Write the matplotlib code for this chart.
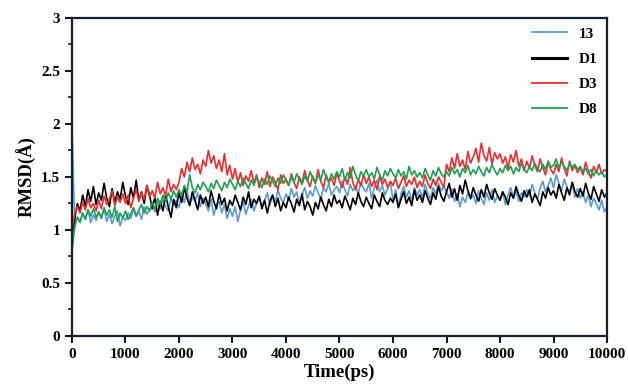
import numpy as np
import matplotlib.pyplot as plt

# RMSD traces, one value every 50 ps
step = 50

rmsd_13 = [
    2.00, 1.05, 1.12, 1.08, 1.16, 1.10, 1.19, 1.07, 1.14, 1.09,
    1.17, 1.11, 1.20, 1.08, 1.15, 1.06, 1.13, 1.18, 1.04, 1.12,
    1.09, 1.16, 1.11, 1.21, 1.13, 1.18, 1.10, 1.22, 1.15, 1.19,
    1.24, 1.17, 1.27, 1.20, 1.29, 1.22, 1.18, 1.30, 1.24, 1.28,
    1.21, 1.33, 1.26, 1.38, 1.24, 1.31, 1.27, 1.35, 1.22, 1.30,
    1.25, 1.18, 1.29, 1.14, 1.23, 1.27, 1.16, 1.24, 1.11, 1.20,
    1.13, 1.22, 1.08, 1.19, 1.26, 1.15, 1.23, 1.29, 1.18, 1.25,
    1.31, 1.22, 1.28, 1.35, 1.24, 1.32, 1.27, 1.38, 1.30, 1.26,
    1.34, 1.28, 1.39, 1.31, 1.36, 1.25, 1.33, 1.40, 1.30, 1.37,
    1.32, 1.42, 1.35, 1.29, 1.40, 1.36, 1.44, 1.33, 1.38, 1.41,
    1.35, 1.46, 1.38, 1.32, 1.43, 1.37, 1.41, 1.34, 1.45, 1.39,
    1.36, 1.44, 1.30, 1.40, 1.47, 1.36, 1.42, 1.33, 1.39, 1.45,
    1.28, 1.38, 1.22, 1.34, 1.41, 1.31, 1.37, 1.27, 1.40, 1.33,
    1.38, 1.30, 1.43, 1.35, 1.29, 1.40, 1.34, 1.44, 1.37, 1.41,
    1.36, 1.30, 1.39, 1.27, 1.34, 1.22, 1.31, 1.26, 1.35, 1.29,
    1.33, 1.25, 1.37, 1.30, 1.24, 1.35, 1.28, 1.38, 1.26, 1.32,
    1.29, 1.36, 1.24, 1.33, 1.40, 1.30, 1.37, 1.27, 1.35, 1.31,
    1.38, 1.32, 1.43, 1.35, 1.29, 1.40, 1.46, 1.36, 1.42, 1.49,
    1.40, 1.52, 1.44, 1.37, 1.48, 1.41, 1.35, 1.45, 1.31, 1.39,
    1.30, 1.36, 1.26, 1.33, 1.22, 1.30, 1.25, 1.19, 1.28, 1.17,
    1.22,
]

rmsd_d1 = [
    0.95, 1.10, 1.25, 1.18, 1.33, 1.22, 1.38, 1.27, 1.41, 1.24,
    1.35, 1.28, 1.44, 1.30, 1.22, 1.39, 1.26, 1.36, 1.29, 1.45,
    1.32, 1.24, 1.40, 1.30, 1.47, 1.28, 1.36, 1.25, 1.42, 1.33,
    1.20, 1.31, 1.14, 1.27, 1.18, 1.33, 1.22, 1.12, 1.29, 1.21,
    1.35, 1.26, 1.40, 1.30, 1.23, 1.36, 1.28, 1.19, 1.33, 1.25,
    1.31, 1.22, 1.37, 1.27, 1.20, 1.34, 1.24, 1.30, 1.18, 1.28,
    1.23, 1.33, 1.26, 1.19, 1.31, 1.24, 1.36, 1.21, 1.29, 1.25,
    1.32, 1.20, 1.28, 1.16, 1.27, 1.33, 1.22, 1.30, 1.18, 1.26,
    1.21, 1.31, 1.25, 1.17, 1.29, 1.23, 1.34, 1.19, 1.27, 1.22,
    1.14, 1.26, 1.20, 1.31, 1.24, 1.18, 1.29, 1.22, 1.33, 1.25,
    1.28, 1.21, 1.32, 1.26, 1.19, 1.30, 1.24, 1.35, 1.27, 1.22,
    1.31, 1.25, 1.20, 1.33, 1.27, 1.22, 1.35, 1.28, 1.24, 1.30,
    1.26, 1.34, 1.21, 1.29, 1.36, 1.25, 1.31, 1.23, 1.38, 1.28,
    1.33, 1.26, 1.37, 1.30, 1.24, 1.35, 1.29, 1.41, 1.32, 1.27,
    1.36, 1.44, 1.31, 1.39, 1.28, 1.42, 1.34, 1.47, 1.37, 1.30,
    1.40, 1.33, 1.27, 1.38, 1.31, 1.43, 1.35, 1.29, 1.39, 1.33,
    1.28, 1.36, 1.31, 1.24, 1.35, 1.30, 1.41, 1.33, 1.27, 1.37,
    1.31, 1.38, 1.26, 1.34, 1.29, 1.23, 1.36, 1.30, 1.40, 1.33,
    1.37, 1.30, 1.43, 1.35, 1.28, 1.40, 1.33, 1.45, 1.36, 1.31,
    1.39, 1.32, 1.44, 1.35, 1.29, 1.41, 1.34, 1.27, 1.38, 1.31,
    1.35,
]

rmsd_d3 = [
    1.00, 1.15, 1.22, 1.16, 1.26, 1.19, 1.30, 1.21, 1.25, 1.18,
    1.28, 1.20, 1.32, 1.24, 1.29, 1.37, 1.23, 1.31, 1.26, 1.34,
    1.25, 1.33, 1.21, 1.30, 1.38, 1.27, 1.35, 1.29, 1.42, 1.31,
    1.37, 1.30, 1.45, 1.34, 1.40, 1.32, 1.48, 1.36, 1.43, 1.38,
    1.45, 1.58, 1.50, 1.64, 1.55, 1.68, 1.57, 1.62, 1.53, 1.66,
    1.60, 1.75, 1.63, 1.70, 1.58, 1.66, 1.55, 1.72, 1.52, 1.61,
    1.48, 1.58, 1.45, 1.54, 1.42, 1.51, 1.46, 1.56, 1.44, 1.52,
    1.40, 1.49, 1.43, 1.55, 1.41, 1.50, 1.45, 1.38, 1.52, 1.44,
    1.48, 1.42, 1.53, 1.45, 1.39, 1.50, 1.44, 1.56, 1.47, 1.41,
    1.51, 1.44, 1.57, 1.46, 1.40, 1.52, 1.45, 1.49, 1.42, 1.54,
    1.46, 1.40, 1.50, 1.43, 1.59, 1.45, 1.38, 1.48, 1.42, 1.52,
    1.44, 1.50, 1.41, 1.47, 1.38, 1.51, 1.43, 1.48, 1.40, 1.46,
    1.42, 1.49, 1.39, 1.45, 1.51, 1.41, 1.47, 1.43, 1.50, 1.40,
    1.46, 1.41, 1.52, 1.44, 1.39, 1.48, 1.42, 1.50, 1.45, 1.40,
    1.62, 1.55, 1.68, 1.58, 1.72, 1.60, 1.66, 1.57, 1.74, 1.63,
    1.69, 1.77, 1.64, 1.82, 1.70, 1.65, 1.78, 1.62, 1.73, 1.67,
    1.72, 1.63, 1.69, 1.58, 1.71, 1.64, 1.75, 1.60, 1.67, 1.56,
    1.65, 1.58, 1.70, 1.61, 1.55, 1.67, 1.59, 1.52, 1.64, 1.57,
    1.53, 1.62, 1.55, 1.68, 1.58, 1.51, 1.65, 1.56, 1.61, 1.54,
    1.59, 1.52, 1.64, 1.55, 1.49, 1.60, 1.54, 1.62, 1.53, 1.57,
    1.55,
]

rmsd_d8 = [
    0.80, 1.02, 1.12, 1.07, 1.16, 1.10, 1.19, 1.13, 1.20, 1.12,
    1.17, 1.11, 1.21, 1.14, 1.19, 1.12, 1.22, 1.08, 1.16, 1.11,
    1.18, 1.10, 1.15, 1.21, 1.13, 1.19, 1.24, 1.16, 1.22, 1.18,
    1.26, 1.20, 1.30, 1.24, 1.33, 1.27, 1.35, 1.29, 1.37, 1.31,
    1.38, 1.33, 1.42, 1.36, 1.52, 1.40, 1.35, 1.43, 1.38, 1.45,
    1.41, 1.36, 1.44, 1.39, 1.47, 1.42, 1.37, 1.45, 1.40, 1.48,
    1.43, 1.38, 1.46, 1.41, 1.49, 1.44, 1.39, 1.47, 1.42, 1.50,
    1.45, 1.40, 1.48, 1.43, 1.51, 1.46, 1.41, 1.49, 1.44, 1.52,
    1.47, 1.42, 1.50, 1.45, 1.53, 1.48, 1.43, 1.51, 1.46, 1.55,
    1.49, 1.44, 1.52, 1.47, 1.57, 1.50, 1.45, 1.53, 1.48, 1.55,
    1.50, 1.58, 1.47, 1.54, 1.49, 1.60, 1.52, 1.46, 1.55, 1.51,
    1.57, 1.50, 1.54, 1.48, 1.59, 1.52, 1.47, 1.56, 1.51, 1.58,
    1.53, 1.49, 1.57, 1.51, 1.55, 1.48, 1.60, 1.52, 1.56, 1.50,
    1.54, 1.49, 1.58, 1.52, 1.47, 1.56, 1.51, 1.59, 1.53, 1.50,
    1.55, 1.51, 1.59, 1.53, 1.57, 1.50, 1.58, 1.54, 1.61, 1.52,
    1.57, 1.53, 1.60, 1.55, 1.51, 1.59, 1.54, 1.62, 1.56, 1.52,
    1.58, 1.54, 1.61, 1.56, 1.60, 1.53, 1.59, 1.55, 1.63, 1.57,
    1.54, 1.60, 1.56, 1.63, 1.58, 1.55, 1.62, 1.57, 1.65, 1.59,
    1.61, 1.67, 1.58, 1.64, 1.60, 1.56, 1.63, 1.59, 1.62, 1.57,
    1.60, 1.55, 1.58, 1.53, 1.57, 1.51, 1.56, 1.52, 1.55, 1.50,
    1.53,
]

labels = ["13", "D1", "D3", "D8"]
colors = ["#5b9bd5", "#000000", "#ee2c2c", "#1fa050"]

plt.rcParams['font.family'] = ['Liberation Serif', 'DejaVu Serif']
plt.rcParams['font.weight'] = 'bold'

fig = plt.figure(figsize=(6.28, 3.91), dpi=100)
ax = fig.add_axes([0.1146, 0.1407, 0.852, 0.8133])

time = np.arange(len(rmsd_13)) * step
series = [rmsd_13, rmsd_d1, rmsd_d3, rmsd_d8]
for vals, lab, col in zip(series, labels, colors):
    ax.plot(time, vals, color=col, lw=1.2, label=lab)

ax.set_xlim(0, 10000)
ax.set_ylim(0, 3)
ax.set_xticks(np.arange(0, 10001, 1000))
ax.set_yticks([0, 0.5, 1, 1.5, 2, 2.5, 3])
ax.set_yticklabels(["0", "0.5", "1", "1.5", "2", "2.5", "3"])
ax.set_yticks(np.arange(0, 3.01, 0.25), minor=True)
ax.tick_params(axis='both', which='major', direction='out', length=5, width=1.5,
               labelsize=11, color='#111a24')
ax.tick_params(axis='y', which='minor', direction='out', length=3, width=1.2, color='#111a24')
for lab in ax.get_xticklabels() + ax.get_yticklabels():
    lab.set_fontweight('bold')
for sp in ax.spines.values():
    sp.set_linewidth(1.6)
    sp.set_color('#14202c')

ax.set_xlabel("Time(ps)", fontsize=13.5, fontweight='bold', labelpad=2)
ax.set_ylabel("RMSD(Å)", fontsize=13.5, fontweight='bold', labelpad=3)

leg = ax.legend(loc='upper right', frameon=False, handlelength=2.3,
                labelspacing=0.75, borderaxespad=0.2, prop={'weight': 'bold', 'size': 11})
for h in leg.get_lines():
    h.set_linewidth(1.3)
leg.get_lines()[1].set_linewidth(2.2)

fig.savefig("out.png", dpi=100)
